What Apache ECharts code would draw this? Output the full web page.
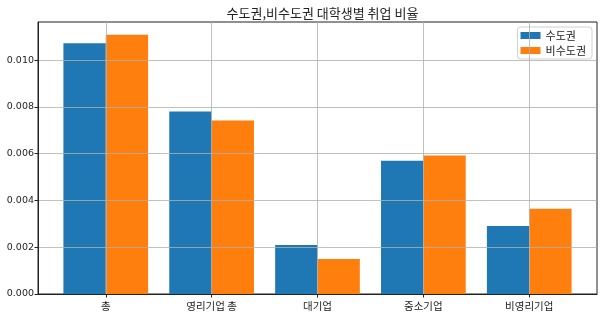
<!DOCTYPE html>
<html><head><meta charset="utf-8">
<script src="https://cdn.jsdelivr.net/npm/echarts@6/dist/echarts.min.js"></script>
<style>html,body{margin:0;padding:0;background:#fff}#c{width:603px;height:318px}</style>
</head><body><div id="c"></div>
<script>
const categories = ['총', '영리기업 총', '대기업', '중소기업', '비영리기업'];
const capital = [0.01072, 0.00780, 0.00210, 0.00570, 0.00291];
const nonCapital = [0.01108, 0.00742, 0.00150, 0.00592, 0.00364];
const yTicks = [0, 0.002, 0.004, 0.006, 0.008, 0.010];
const seriesNames = ['수도권', '비수도권'];

const W = 603, H = 318;
const gl = 38, gr = 6, gt = 22, gb = 24;
const xMin = -0.64, xMax = categories.length - 1 + 0.64;
const pxPerUnit = (W - gl - gr) / (xMax - xMin);
const font = 'Noto Sans CJK KR';
const chart = echarts.init(document.getElementById('c'), null, {renderer: 'canvas'});
chart.setOption({
  animation: false,
  title: {text: '수도권,비수도권 대학생별 취업 비율', left: (gl + W - gr) / 2, textAlign: 'center', top: 2,
    textStyle: {fontFamily: font, fontSize: 13, fontWeight: 'normal', color: '#222'}},
  legend: {data: seriesNames, orient: 'vertical', right: 11, top: 27, itemWidth: 20, itemHeight: 7, itemGap: 4,
    icon: 'rect',
    borderColor: '#d0d0d0', borderWidth: 1, borderRadius: 3, padding: [3, 6, 3, 3],
    textStyle: {fontFamily: font, fontSize: 11, color: '#222'}},
  grid: {left: gl, right: gr, top: gt, bottom: gb, show: true, borderColor: '#222', borderWidth: 1},
  xAxis: {type: 'value', min: xMin, max: xMax, z: 5,
    axisLine: {show: true, onZero: false, lineStyle: {color: '#222', width: 1}},
    axisTick: {show: true, customValues: categories.map((c, i) => i), length: 3.5, lineStyle: {color: '#222'}},
    axisLabel: {customValues: categories.map((c, i) => i), formatter: v => categories[Math.round(v)],
      fontFamily: font, fontSize: 10.5, color: '#222', margin: 7},
    splitLine: {show: true, lineStyle: {color: '#b0b0b0', width: 0.8}}},
  yAxis: {type: 'value', min: 0, max: 0.01163, z: 5,
    axisLine: {show: true, onZero: false, lineStyle: {color: '#222', width: 1}},
    axisTick: {show: true, customValues: yTicks, length: 3.5, lineStyle: {color: '#222'}},
    axisLabel: {customValues: yTicks, formatter: v => v.toFixed(3), fontFamily: 'DejaVu Sans', fontSize: 9.5, color: '#222', margin: 4},
    splitLine: {show: true, lineStyle: {color: '#b0b0b0', width: 0.8}}},
  series: [
    {name: seriesNames[0], type: 'bar', data: capital.map((v, i) => [i - 0.2, v]), barWidth: 0.4 * pxPerUnit, barGap: '-100%',
      itemStyle: {color: '#1f77b4'}},
    {name: seriesNames[1], type: 'bar', data: nonCapital.map((v, i) => [i + 0.2, v]), barWidth: 0.4 * pxPerUnit, barGap: '-100%',
      itemStyle: {color: '#ff7f0e'}}
  ]
});
</script></body></html>
